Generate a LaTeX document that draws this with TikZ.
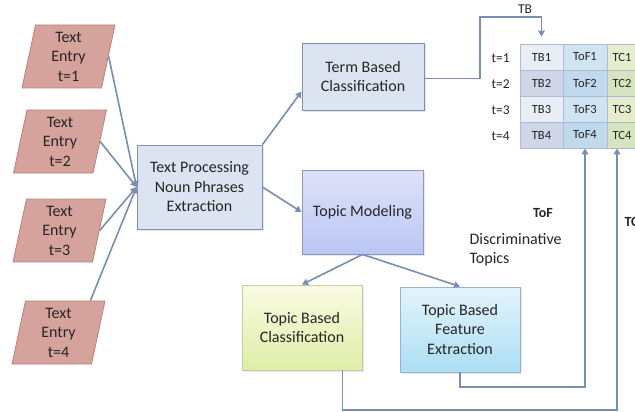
\documentclass[tikz,border=0pt]{standalone}
\usepackage{fontspec}
\setmainfont{Carlito}
\usetikzlibrary{shapes.geometric,arrows.meta,calc,shadows}
\definecolor{txt}{RGB}{38,38,38}
\definecolor{pinkfill}{RGB}{214,162,156}
\definecolor{pinkdraw}{RGB}{185,130,125}
\definecolor{bluefill}{RGB}{220,228,241}
\definecolor{bluedraw}{RGB}{125,145,175}
\definecolor{arrc}{RGB}{120,142,178}
\definecolor{tmtop}{RGB}{222,226,248}
\definecolor{tmbot}{RGB}{186,198,244}
\definecolor{tmdraw}{RGB}{140,152,195}
\definecolor{ygtop}{RGB}{249,251,225}
\definecolor{ygbot}{RGB}{224,237,168}
\definecolor{ygdraw}{RGB}{195,205,165}
\definecolor{cytop}{RGB}{228,244,251}
\definecolor{cybot}{RGB}{172,222,244}
\definecolor{cydraw}{RGB}{150,180,205}
\definecolor{gridc}{RGB}{175,188,208}
\definecolor{tbA}{RGB}{233,238,246}
\definecolor{tbB}{RGB}{206,214,231}
\definecolor{tofA}{RGB}{208,227,241}
\definecolor{tofB}{RGB}{193,217,236}
\definecolor{tcA}{RGB}{230,236,206}
\definecolor{tcB}{RGB}{216,228,192}
\tikzset{
  base/.style={font=\fontsize{16}{19.5}\selectfont, text=txt, align=center},
  entry/.style={base, trapezium, trapezium left angle=75, trapezium right angle=105,
    trapezium stretches body, fill=pinkfill, draw=pinkdraw, line width=0.8pt,
    minimum width=93pt, minimum height=63pt, inner sep=0.5pt},
  shad/.style={drop shadow={opacity=0.18, shadow xshift=1.5pt, shadow yshift=-1.5pt}},
  procbox/.style={base, rectangle, fill=bluefill, draw=bluedraw, line width=0.9pt, inner sep=2pt, shad},
  tmbox/.style={base, rectangle, top color=tmtop, bottom color=tmbot, draw=tmdraw, line width=0.9pt, inner sep=2pt, shad},
  ygbox/.style={base, rectangle, top color=ygtop, bottom color=ygbot, draw=ygdraw, line width=0.9pt, inner sep=2pt, shad},
  cybox/.style={base, rectangle, top color=cytop, bottom color=cybot, draw=cydraw, line width=0.9pt, inner sep=2pt, shad},
  arr/.style={draw=arrc, line width=1.6pt, -{Triangle[length=6pt,width=6.5pt]}},
  cell/.style={font=\fontsize{12.5}{14}\selectfont, text=txt, minimum height=26pt, draw=gridc, line width=0.8pt, inner sep=0pt},
  tbcell/.style={cell, minimum width=43pt},
  tofcell/.style={cell, minimum width=44pt},
  tccell/.style={cell, minimum width=30pt},
  rowlab/.style={font=\fontsize{13.5}{15}\selectfont, text=txt, anchor=east, inner sep=0pt},
  lab/.style={font=\fontsize{16}{19.5}\selectfont, text=txt},
}
\begin{document}
\begin{tikzpicture}[x=1pt,y=-1pt]
\clip (0,0) rectangle (635,412);
\fill[white] (0,0) rectangle (635,412);

% text entries
\node[entry] (t1) at (68.5,56.5) {Text\\Entry\\t=1};
\node[entry] (t2) at (60,141.5) {Text\\Entry\\t=2};
\node[entry] (t3) at (59.5,230.5) {Text\\Entry\\t=3};
\node[entry] (t4) at (58.5,332.5) {Text\\Entry\\t=4};

% boxes
\node[procbox, minimum width=125pt, minimum height=84pt] (proc) at (199.5,187) {Text Processing\\Noun Phrases\\Extraction};
\node[procbox, minimum width=122pt, minimum height=67pt] (term) at (363,76.5) {Term Based\\Classification};
\node[tmbox, minimum width=121pt, minimum height=84pt] (topic) at (362.5,212) {Topic Modeling};
\node[ygbox, minimum width=120pt, minimum height=85pt] (tbc) at (302,327.5) {Topic Based\\Classification};
\node[cybox, minimum width=120pt, minimum height=85pt] (tbfe) at (460,329.5) {Topic Based\\Feature\\Extraction};

% table
\node[tbcell, fill=tbA] (TB1) at (541.5,57) {TB1};
\node[tbcell, fill=tbB] (TB2) at (541.5,83) {TB2};
\node[tbcell, fill=tbA] (TB3) at (541.5,109) {TB3};
\node[tbcell, fill=tbB] (TB4) at (541.5,135) {TB4};
\node[tofcell, fill=tofA] (ToF1) at (585,57) {ToF1};
\node[tofcell, fill=tofB] (ToF2) at (585,83) {ToF2};
\node[tofcell, fill=tofA] (ToF3) at (585,109) {ToF3};
\node[tofcell, fill=tofB] (ToF4) at (585,135) {ToF4};
\node[tccell, fill=tcA] (TC1) at (622,57) {TC1};
\node[tccell, fill=tcB] (TC2) at (622,83) {TC2};
\node[tccell, fill=tcA] (TC3) at (622,109) {TC3};
\node[tccell, fill=tcB] (TC4) at (622,135) {TC4};
\node[rowlab] (r1) at (510,58) {t=1};
\node[rowlab] (r2) at (510,84) {t=2};
\node[rowlab] (r3) at (510,110) {t=3};
\node[rowlab] (r4) at (510,136) {t=4};

% labels
\node[font=\fontsize{13.5}{15}\selectfont, text=txt] (tblab) at (525,9) {TB};
\node[lab, font=\fontsize{14}{17}\selectfont\bfseries] (toflab) at (543,213) {ToF};
\node[lab, align=left, anchor=west] (disc) at (466,250) {Discriminative\\Topics};
\node[lab, font=\fontsize{14}{17}\selectfont\bfseries, anchor=west] (tclab) at (621,222) {TC};

% arrows into processing
\draw[arr] (t1.east) -- (proc.west);
\draw[arr] (t2.east) -- (proc.west);
\draw[arr] (t3.east) -- (proc.west);
\draw[arr] (t4.north east) -- (proc.west);

\draw[arr] (proc.north east) -- ($(term.west)+(0,15)$);
\draw[arr] (proc.east) -- (topic.west);
\draw[arr] (topic.south) -- (tbc.north);
\draw[arr] (topic.south) -- (tbfe.north);

% TB connector
\coordinate (tbbend) at (480,17);
\draw[arr, shorten >=7pt] ($(term.east)+(0,2)$) -| (tbbend) -| (TB1.north);

% loops
\coordinate (lowA) at (0,387);
\coordinate (lowB) at (0,410);
\draw[arr] (tbfe.south) |- (lowA -| ToF4.south) -- (ToF4.south);
\coordinate (tcin) at ($(TC4.south)+(-5,0)$);
\coordinate (tbcout) at ($(tbc.south east)+(-20,0)$);
\draw[arr] (tbcout) |- (lowB -| tcin) -- (tcin);
\end{tikzpicture}
\end{document}
